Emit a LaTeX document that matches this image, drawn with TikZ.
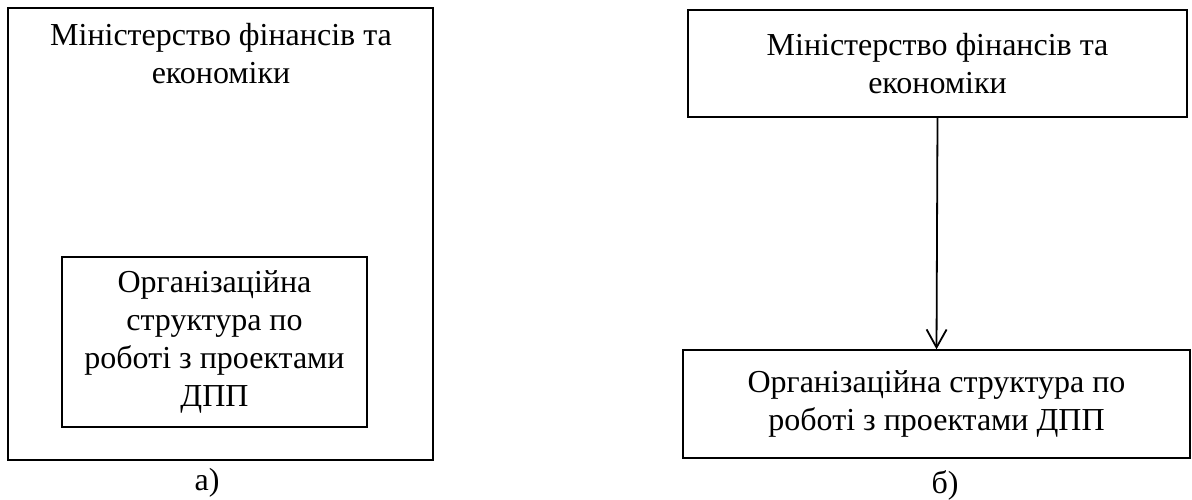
\documentclass[tikz,border=0pt]{standalone}
\usepackage{fontspec}
\setmainfont{Liberation Serif}
\usetikzlibrary{arrows.meta}

\tikzset{
  box/.style={draw, line width=0.7pt, inner sep=0pt, align=center,
    font=\fontsize{16}{19}\selectfont},
  txt/.style={inner sep=0pt, align=center, font=\fontsize{16}{19}\selectfont},
}

\begin{document}
\begin{tikzpicture}[x=0.5pt,y=0.5pt]

  \useasboundingbox (0,0) rectangle (1192,499);

  % variant a): structure inside the ministry
  \node[box, minimum width=212.5pt, minimum height=226pt] (ministryA) at (220.5,265) {};
  \node[txt, anchor=north] (ministryAtext) at (221,476)
    {Міністерство фінансів та\\економіки};
  \node[box, minimum width=152.5pt, minimum height=85pt] (structA) at (214.5,157)
    {Організаційна\\структура по\\роботі з проектами\\ДПП};
  \node[txt] (labelA) at (207,16) {а)};

  % variant b): structure under the ministry
  \node[box, minimum width=249.5pt, minimum height=53.5pt] (ministryB) at (937.5,435.5)
    {Міністерство фінансів та\\економіки};
  \node[box, minimum width=253.5pt, minimum height=54pt] (structB) at (936.5,95)
    {Організаційна структура по\\роботі з проектами ДПП};
  \node[txt] (labelB) at (945,14) {б)};

  % arrow
  \draw[line width=0.9pt, -{Straight Barb[length=9pt,width=10pt]}]
    (ministryB.south) -- (structB.north);

\end{tikzpicture}
\end{document}
